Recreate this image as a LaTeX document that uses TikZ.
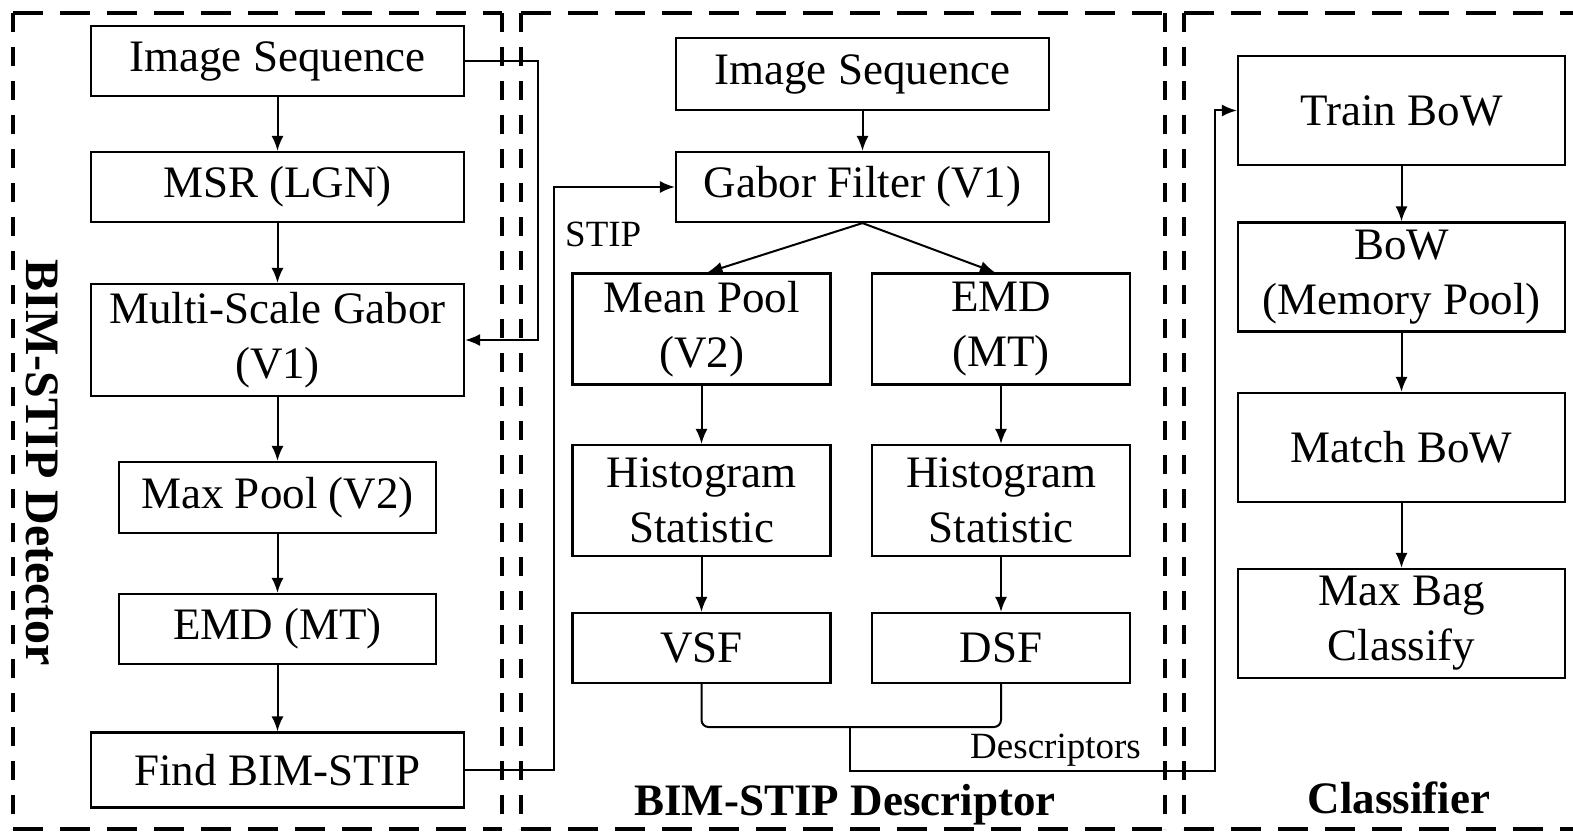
\documentclass[tikz,border=0pt]{standalone}
\usepackage{fontspec}
\setmainfont{Liberation Serif}
\usetikzlibrary{arrows.meta}

\tikzset{
  box/.style={draw=black, line width=2.2pt, inner sep=0pt, align=center,
    font=\fontsize{45}{55}\selectfont},
  wide/.style={box, minimum width=373pt},
  narrow/.style={box, minimum width=317pt},
  half/.style={box, minimum width=258pt},
  rbox/.style={box, minimum width=327pt},
  conn/.style={line width=2pt},
  arr/.style={conn, -{Latex[length=15pt,width=12pt]}},
  panelh/.style={line width=4.5pt, dash pattern=on 30pt off 17pt},
  panelv/.style={line width=4.5pt, dash pattern=on 19pt off 15pt},
  tag/.style={inner sep=0pt, font=\fontsize{37}{42}\selectfont},
  title/.style={inner sep=0pt, font=\fontsize{45}{52}\selectfont\bfseries}
}

\begin{document}
\begin{tikzpicture}[x=1pt, y=-1pt]
\useasboundingbox (0,0) rectangle (1573,832);
\fill[white] (0,0) rectangle (1573,832);

% dashed panels: detector, descriptor, classifier
\draw[panelh] (13,13) -- (502,13) (13,829) -- (502,829);
\draw[panelv] (13,13) -- (13,829) (502,13) -- (502,829);
\draw[panelh] (521,13) -- (1165,13) (521,829) -- (1165,829);
\draw[panelv] (521,13) -- (521,829) (1165,13) -- (1165,829);
\draw[panelh] (1184,13) -- (1573,13) (1184,829) -- (1573,829);
\draw[panelv] (1184,13) -- (1184,829);

% BIM-STIP detector
\node[wide, minimum height=70pt] (is1) at (277.5,61) {Image Sequence};
\node[wide, minimum height=70pt] (msr) at (277.5,187) {MSR (LGN)};
\node[wide, minimum height=112pt] (msg) at (277.5,340) {Multi-Scale Gabor\\(V1)};
\node[narrow, minimum height=71pt] (mxp) at (277.5,497.5) {Max Pool (V2)};
\node[narrow, minimum height=70pt] (emd1) at (277.5,629) {EMD (MT)};
\node[wide, minimum height=75pt] (find) at (277.5,770) {Find BIM-STIP};

\draw[arr] (is1) -- (msr);
\draw[arr] (msr) -- (msg);
\draw[arr] (msg) -- (mxp);
\draw[arr] (mxp) -- (emd1);
\draw[arr] (emd1) -- (find);
\draw[arr] (is1.east) -| ([xshift=73pt]msg.east) -- (msg.east);

% BIM-STIP descriptor
\node[wide, minimum height=72pt] (is2) at (862.5,74) {Image Sequence};
\node[wide, minimum height=70pt] (gab) at (862.5,187) {Gabor Filter (V1)};
\node[half, minimum height=111pt] (mnp) at (701.5,329) {Mean Pool\\(V2)};
\node[half, minimum height=111pt] (emd2) at (1001,329) {EMD\\(MT)};
\node[half, minimum height=111pt] (hs1) at (701.5,500.5) {Histogram\\Statistic};
\node[half, minimum height=111pt] (hs2) at (1001,500.5) {Histogram\\Statistic};
\node[half, minimum height=70pt] (vsf) at (701.5,648) {VSF};
\node[half, minimum height=70pt] (dsf) at (1001,648) {DSF};

\draw[arr] (is2) -- (gab);
\draw[arr] (gab.south) -- ([xshift=6pt]mnp.north);
\draw[arr] (gab.south) -- ([xshift=-6pt]emd2.north);
\draw[arr] (mnp) -- (hs1);
\draw[arr] (emd2) -- (hs2);
\draw[arr] (hs1) -- (vsf);
\draw[arr] (hs2) -- (dsf);

\draw[arr] (find.east) -| ([xshift=-121pt]gab.west) -- (gab.west);
\node[tag, anchor=base west] (stip) at (565,246) {STIP};

% classifier
\node[rbox, minimum height=109pt] (trn) at (1401.5,110.5) {Train BoW};
\node[rbox, minimum height=109pt] (bow) at (1401.5,277) {BoW\\(Memory Pool)};
\node[rbox, minimum height=109pt] (mat) at (1401.5,447.5) {Match BoW};
\node[rbox, minimum height=109pt] (mbc) at (1401.5,623.5) {Max Bag\\Classify};

\draw[arr] (trn) -- (bow);
\draw[arr] (bow) -- (mat);
\draw[arr] (mat) -- (mbc);

% descriptors joined and passed to the classifier
\coordinate (brk) at (850,727);
\coordinate (dsc) at (1215,771);
\draw[conn, rounded corners=7pt] (vsf.south) |- (brk) -| (dsf.south);
\draw[arr] (brk) |- (dsc) |- (trn.west);
\node[tag, anchor=base east] (dlab) at (1141,758) {Descriptors};

% panel titles
\node[title, anchor=base] (tdes) at (845,815) {BIM-STIP Descriptor};
\node[title, anchor=base] (tcls) at (1399,813) {Classifier};
\node[title, rotate=-90, font=\fontsize{48}{52}\selectfont\bfseries] (tdet) at (42,463) {BIM-STIP Detector};
\end{tikzpicture}
\end{document}
